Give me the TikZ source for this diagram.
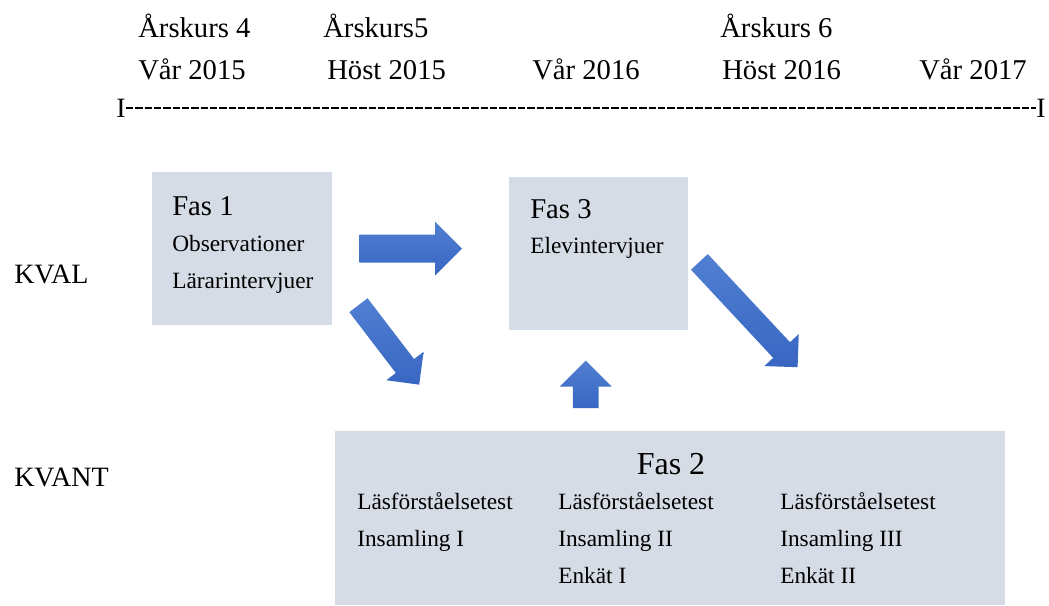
\documentclass[tikz,border=0pt]{standalone}
\usepackage{fontspec}
\setmainfont{Liberation Serif}
\usetikzlibrary{shapes.arrows}
\definecolor{phaseFill}{RGB}{214,220,229}
\definecolor{arrowLight}{RGB}{80,127,210}
\definecolor{arrowDark}{RGB}{56,102,194}

\begin{document}
\begin{tikzpicture}[
  x=0.75pt, y=-0.75pt,
  phase/.style={fill=phaseFill, draw=none, anchor=north west, inner sep=0pt},
  period/.style={anchor=base west, inner sep=0pt, font=\fontsize{21.5}{25}\selectfont},
  level/.style={anchor=base west, inner sep=0pt, font=\fontsize{21}{25}\selectfont},
  title/.style={anchor=base west, inner sep=0pt, font=\fontsize{21.5}{26}\selectfont},
  item/.style={anchor=base west, inner sep=0pt, font=\fontsize{17.5}{21}\selectfont},
  tick/.style={inner sep=0pt, font=\fontsize{21}{25}\selectfont},
  timeline/.style={line width=1.1pt, dash pattern=on 5.5pt off 1.5pt},
  blockarrow/.style={single arrow, draw=none, inner xsep=0pt, anchor=tail,
              top color=arrowLight, bottom color=arrowDark,
              single arrow head extend=#1}
]
\useasboundingbox (0,0) rectangle (1049,606);

% time axis
\node[period] (ak4) at (138,38) {Årskurs 4};
\node[period] (ak5) at (323,38) {Årskurs5};
\node[period] (ak6) at (720,38) {Årskurs 6};
\node[period] (v15) at (138,80) {Vår 2015};
\node[period] (h15) at (327,80) {Höst 2015};
\node[period] (v16) at (532,80) {Vår 2016};
\node[period] (h16) at (722,80) {Höst 2016};
\node[period] (v17) at (919,80) {Vår 2017};
\node[tick] (tstart) at (121,108) {I};
\node[tick] (tend) at (1041,108) {I};
\draw[timeline] (tstart.east) -- (tend.west);

% levels
\node[level] (kval)  at (14,283) {KVAL};
\node[level] (kvant) at (14,486) {KVANT};

% phases
\node[phase, minimum width=135pt, minimum height=114.75pt] (fas1) at (152,172) {};
\node[phase, minimum width=134.25pt, minimum height=114.75pt] (fas3) at (509,177) {};
\node[phase, minimum width=502.5pt, minimum height=130.5pt] (fas2) at (335,431) {};

\node[title] (fas1t) at (172,215) {Fas 1};
\node[item] (obs) at (172,251) {Observationer};
\node[item] (lint) at (172,288) {Lärarintervjuer};

\node[title] (fas3t) at (530,219) {Fas 3};
\node[item] (eint) at (530,253) {Elevintervjuer};

\node[title, anchor=base, font=\fontsize{24}{28}\selectfont] (fas2t) at (671,474) {Fas 2};
\node[item] (lt1) at (357,509) {Läsförståelsetest};
\node[item] (in1) at (357,546) {Insamling I};
\node[item] (lt2) at (558,509) {Läsförståelsetest};
\node[item] (in2) at (558,546) {Insamling II};
\node[item] (en1) at (558,583) {Enkät I};
\node[item] (lt3) at (780,509) {Läsförståelsetest};
\node[item] (in3) at (780,546) {Insamling III};
\node[item] (en2) at (780,583) {Enkät II};

% block arrows
\node[blockarrow=9.75pt, inner ysep=10.25pt, minimum height=77pt] (a13) at (359,248.6) {};
\node[blockarrow=9pt, inner ysep=8.4pt, minimum height=75pt, rotate=-52.6] (a12) at (358.3,305) {};
\node[blockarrow=9.75pt, inner ysep=9.4pt, minimum height=35.5pt, rotate=90] (a23) at (585.7,408.3) {};
\node[blockarrow=9pt, inner ysep=8.4pt, minimum height=108pt, rotate=-47] (a3o) at (699.2,261.7) {};
\end{tikzpicture}
\end{document}
